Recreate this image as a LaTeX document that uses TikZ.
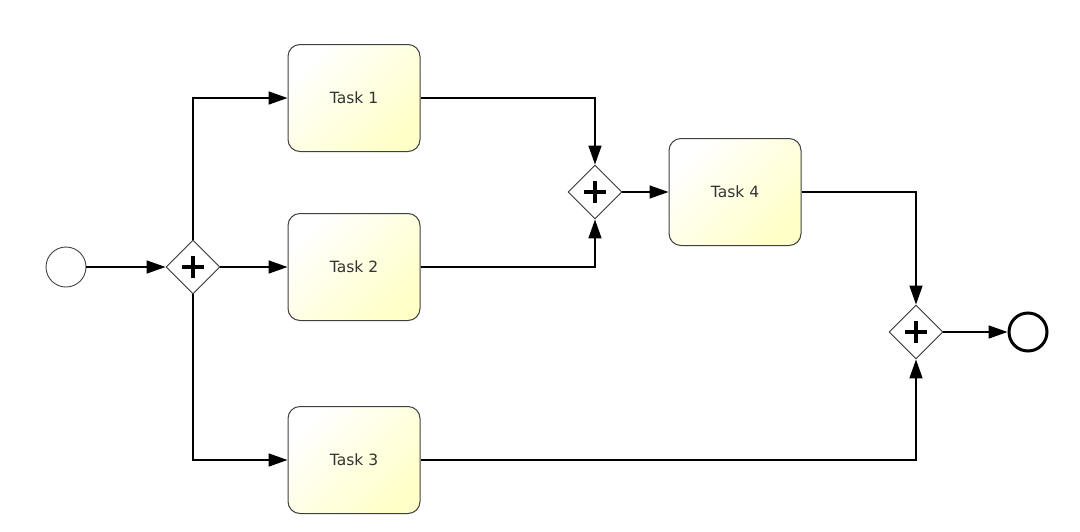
\documentclass[tikz,border=0pt]{standalone}
\usepackage{fontspec}
\setmainfont{DejaVu Sans}
\usetikzlibrary{arrows.meta, shapes.geometric}
\definecolor{taskfill}{RGB}{255,255,200}

\begin{document}
\begin{tikzpicture}[x=1pt, y=-1pt]
\tikzstyle{task}=[draw=black!75, line width=1pt, rounded corners=12pt, minimum width=132pt, minimum height=107pt, inner sep=0pt, top color=white, bottom color=taskfill, shading angle=45, font=\fontsize{15.5}{18}\selectfont, text=black!80]
\tikzstyle{gate}=[draw=black!80, diamond, aspect=1, minimum width=54pt, minimum height=54pt, inner sep=0pt, fill=white, line width=0.9pt,
  path picture={\draw[black, line width=3.6pt] ([xshift=-11pt]path picture bounding box.center) -- ([xshift=11pt]path picture bounding box.center);
                \draw[black, line width=3.6pt] ([yshift=-11pt]path picture bounding box.center) -- ([yshift=11pt]path picture bounding box.center);}]
\tikzstyle{flow}=[line width=1.6pt, -{Triangle[length=19pt, width=13pt]}]
\tikzstyle{vh}=[to path={|- (\tikztotarget)}]
\tikzstyle{hv}=[to path={-| (\tikztotarget)}]
\useasboundingbox (0,0) rectangle (1080,531);

\node[draw=black!75, circle, minimum size=40pt, inner sep=0pt, line width=0.9pt] (start) at (66,267) {};
\node[gate] (split) at (193,267) {};
\node[task] (t1) at (354,98) {Task 1};
\node[task] (t2) at (354,267) {Task 2};
\node[task] (t3) at (354,460) {Task 3};
\node[gate] (join) at (595,192) {};
\node[task] (t4) at (735,192) {Task 4};
\node[gate] (merge) at (916,332) {};
\node[draw, circle, minimum size=38pt, inner sep=0pt, line width=3pt] (end) at (1028,332) {};

\path[flow]
(start) edge (split)
(split) edge[vh] (t1.west)
        edge (t2)
        edge[vh] (t3.west)
(t1) edge[hv] (join.north)
(t2) edge[hv] (join.south)
(join) edge (t4)
(t4) edge[hv] (merge.north)
(t3) edge[hv] (merge.south)
(merge) edge (end);

\end{tikzpicture}
\end{document}
